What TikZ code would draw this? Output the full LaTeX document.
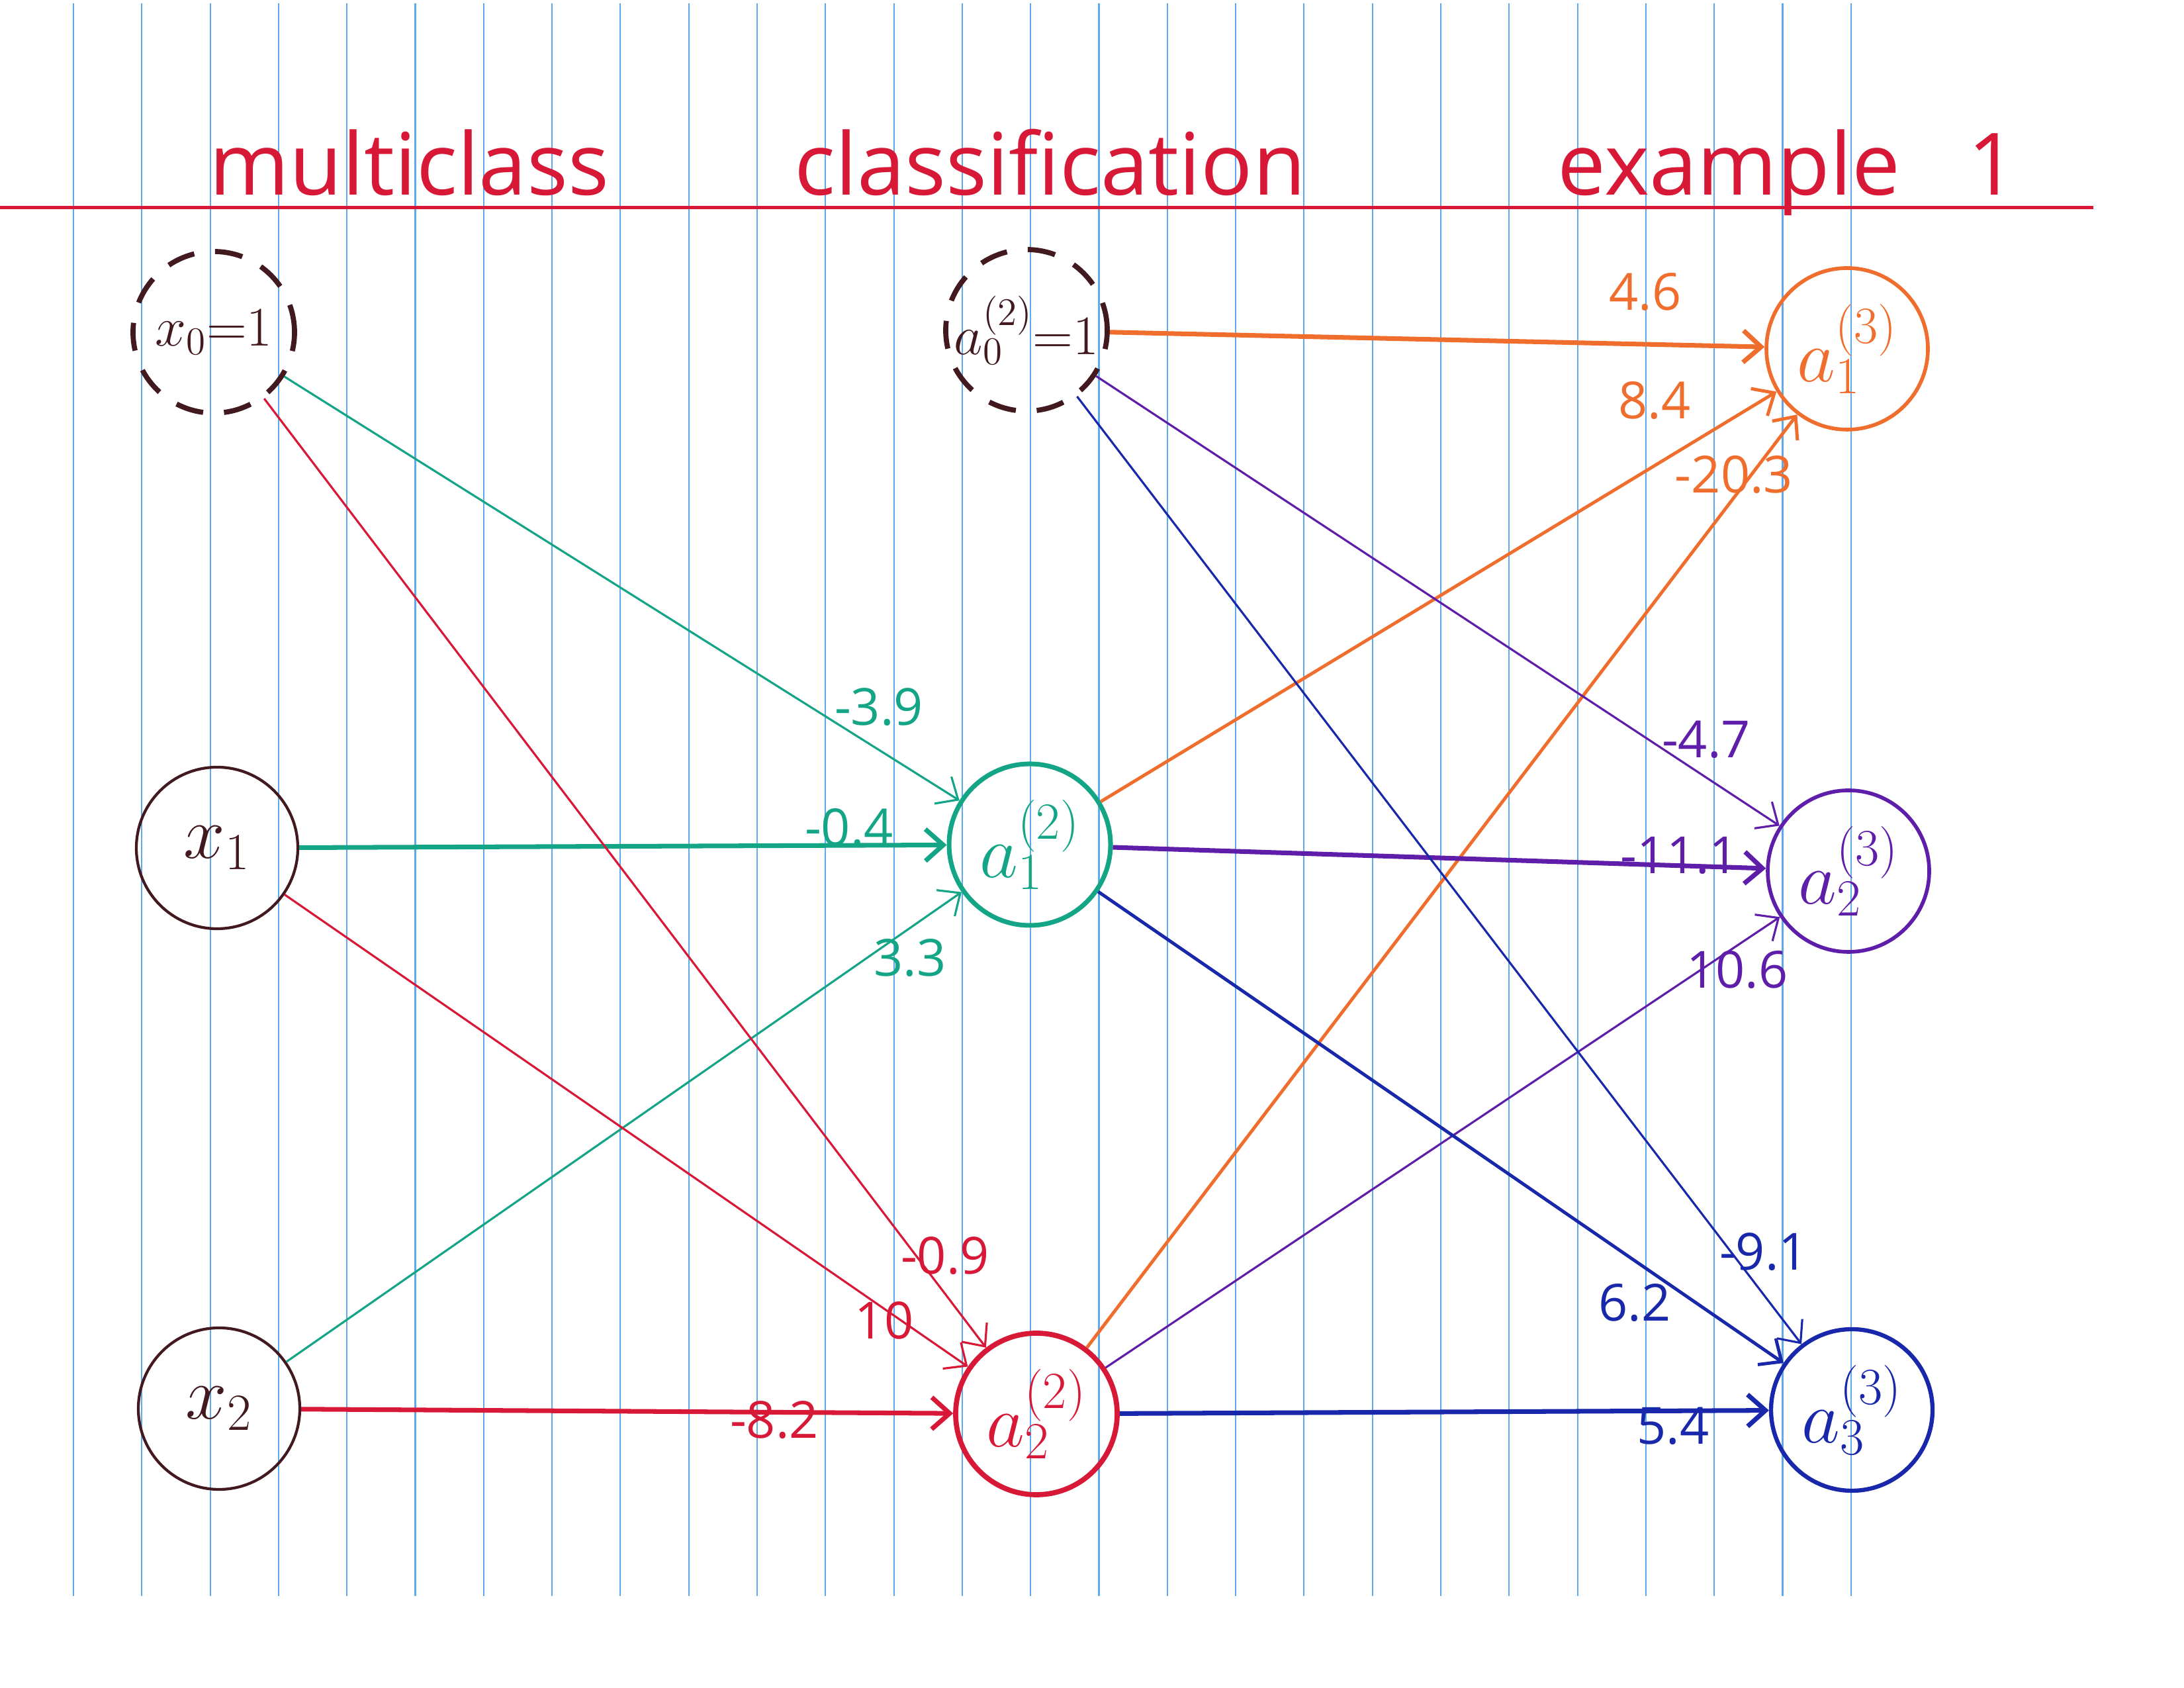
\RequirePackage{fix-cm}
\documentclass[tikz,border=0pt]{standalone}
\usepackage{fontspec}
\usepackage{xcolor}
\newfontfamily\handfont{Open Sans}
\usetikzlibrary{arrows.meta}

\definecolor{ink}{RGB}{65,25,30}
\definecolor{penteal}{RGB}{20,165,135}
\definecolor{penred}{RGB}{215,25,55}
\definecolor{penorange}{RGB}{240,110,45}
\definecolor{penpurple}{RGB}{95,30,170}
\definecolor{penblue}{RGB}{25,40,170}
\definecolor{paperblue}{RGB}{95,170,235}

\tikzset{
  unit/.style={circle,draw,line width=1.2pt,minimum size=2.44cm,inner sep=0pt,
    font=\fontsize{32}{32}\selectfont},
  bias/.style={unit,draw=ink,line width=2.2pt,dash pattern=on 12pt off 9pt,
    font=\fontsize{24}{24}\selectfont},
  link/.style={-{Straight Barb[length=2.7mm,width=4.8mm]},line width=0.9pt},
  heavy/.style={line width=2pt},
  medium/.style={line width=1.4pt},
  wt/.style={inner sep=0pt,font=\handfont\fontsize{22}{22}\selectfont},
  rule/.style={line width=0.6pt,draw=paperblue},
}

\begin{document}
\begin{tikzpicture}
\useasboundingbox (0,0) rectangle (33,25.5);
% paper
\foreach \i in {0,...,26}
  \draw[rule] ({1.11+1.033*\i},1.39) -- ++(0,24.06);
\node[anchor=base west,inner sep=0pt,text=penred,
  font=\handfont\fontsize{37}{37}\selectfont] (heading) at (3.16,22.55)
  {\makebox[8.84cm][l]{multiclass}\makebox[11.53cm][l]{classification}\makebox[6.2cm][l]{example}1};
\draw[penred,line width=1.4pt] (0,22.36) -- (31.63,22.36);

% layer 1
\node[bias,text=ink] (x0) at (3.23,20.48) {$x_0{=}1$};
\node[unit,draw=ink,text=ink] (x1) at (3.28,12.69) {$x_1$};
\node[unit,draw=ink,text=ink] (x2) at (3.31,4.22) {$x_2$};
% layer 2
\node[bias,text=ink] (b2) at (15.51,20.51) {$a_0^{(2)}{=}1$};
\node[unit,draw=penteal,text=penteal,line width=2pt] (h1) at (15.56,12.74) {$a_1^{(2)}$};
\node[unit,draw=penred,text=penred,line width=2.2pt] (h2) at (15.66,4.14) {$a_2^{(2)}$};
% layer 3
\node[unit,draw=penorange,text=penorange,line width=1.6pt] (o1) at (27.91,20.23) {$a_1^{(3)}$};
\node[unit,draw=penpurple,text=penpurple,line width=1.6pt] (o2) at (27.93,12.34) {$a_2^{(3)}$};
\node[unit,draw=penblue,text=penblue,line width=1.8pt] (o3) at (27.98,4.20) {$a_3^{(3)}$};

% weights into a^(2)
\draw[link,penteal] (x0) -- (h1);
\draw[link,penteal,heavy] (x1) -- (h1);
\draw[link,penteal] (x2) -- (h1);
\draw[link,penred] (x0) -- (h2);
\draw[link,penred] (x1) -- (h2);
\draw[link,penred,heavy] (x2) -- (h2);
\node[wt,text=penteal] (w11) at (13.28,14.82) {-3.9};
\node[wt,text=penteal] (w12) at (12.83,13.00) {-0.4};
\node[wt,text=penteal] (w13) at (13.75,11.03) {3.3};
\node[wt,text=penred] (w21) at (14.28,6.53) {-0.9};
\node[wt,text=penred] (w22) at (13.36,5.55) {10};
\node[wt,text=penred] (w23) at (11.70,4.05) {-8.2};

% weights into a^(3)
\draw[link,penorange,heavy] (b2) -- (o1);
\draw[link,penorange,medium] (h1) -- (o1);
\draw[link,penorange,medium] (h2) -- (o1);
\draw[link,penpurple] (b2) -- (o2);
\draw[link,penpurple,heavy] (h1) -- (o2);
\draw[link,penpurple] (h2) -- (o2);
\draw[link,penblue] (b2) -- (o3);
\draw[link,penblue,medium] (h1) -- (o3);
\draw[link,penblue,heavy] (h2) -- (o3);
\node[wt,text=penorange] (v11) at (24.86,21.09) {4.6};
\node[wt,text=penorange] (v12) at (25.00,19.45) {8.4};
\node[wt,text=penorange] (v13) at (26.20,18.33) {-20.3};
\node[wt,text=penpurple] (v21) at (25.78,14.33) {-4.7};
\node[wt,text=penpurple] (v22) at (25.38,12.58) {-11.1};
\node[wt,text=penpurple] (v23) at (26.25,10.85) {10.6};
\node[wt,text=penblue] (v31) at (26.65,6.59) {-9.1};
\node[wt,text=penblue] (v32) at (24.70,5.82) {6.2};
\node[wt,text=penblue] (v33) at (25.28,3.96) {5.4};
\end{tikzpicture}
\end{document}
